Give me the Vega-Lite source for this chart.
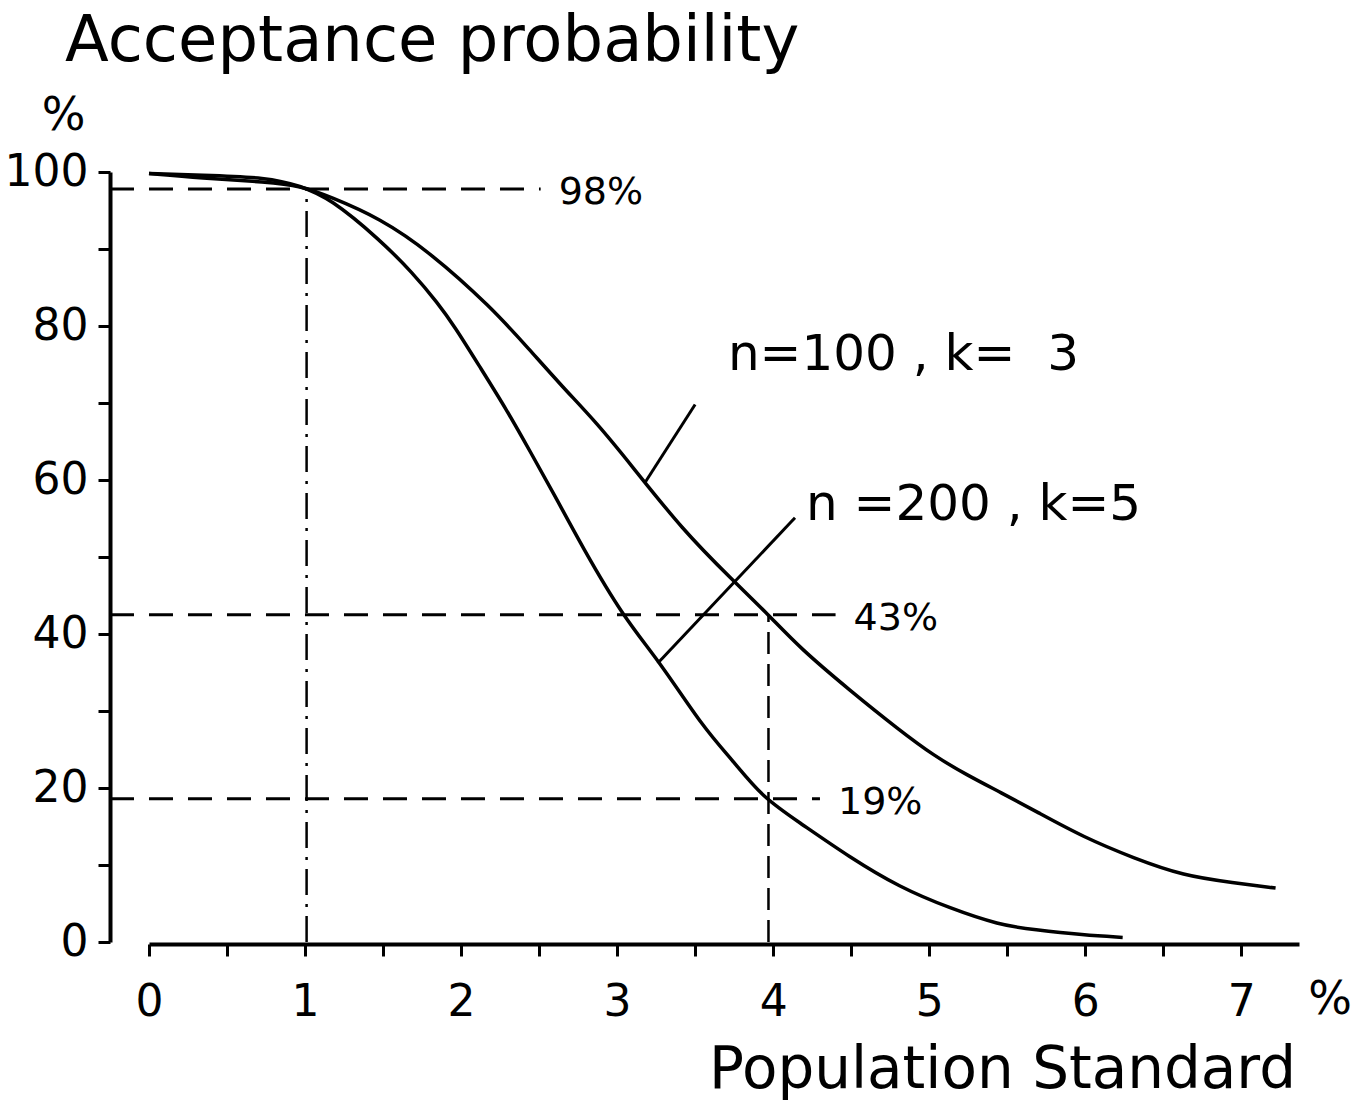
{
  "$schema": "https://vega.github.io/schema/vega-lite/v6.json",
  "width": 1150,
  "height": 770,
  "autosize": {"type": "none"},
  "padding": {"left": 149, "top": 172, "right": 70, "bottom": 164},
  "background": "white",
  "config": {"view": {"stroke": null}, "font": "DejaVu Sans"},
  "title": {"text": "Acceptance probability", "anchor": "start", "frame": "group", "dx": -84, "offset": -33, "baseline": "alphabetic", "fontSize": 64, "fontWeight": "normal", "font": "DejaVu Sans", "color": "black"},
  "datasets": {
    "curves": [
      {"series": "n=100, k=3", "x": 0, "y": 99.8},
      {"series": "n=100, k=3", "x": 0.33, "y": 99.2},
      {"series": "n=100, k=3", "x": 0.76, "y": 98.7},
      {"series": "n=100, k=3", "x": 0.97, "y": 98.2},
      {"series": "n=100, k=3", "x": 1.16, "y": 96.8},
      {"series": "n=100, k=3", "x": 1.48, "y": 94.0},
      {"series": "n=100, k=3", "x": 1.8, "y": 89.6},
      {"series": "n=100, k=3", "x": 2.19, "y": 82.5},
      {"series": "n=100, k=3", "x": 2.44, "y": 76.9},
      {"series": "n=100, k=3", "x": 2.65, "y": 72.1},
      {"series": "n=100, k=3", "x": 2.87, "y": 67.4},
      {"series": "n=100, k=3", "x": 3.08, "y": 62.2},
      {"series": "n=100, k=3", "x": 3.42, "y": 53.5},
      {"series": "n=100, k=3", "x": 3.74, "y": 47.0},
      {"series": "n=100, k=3", "x": 3.97, "y": 42.5},
      {"series": "n=100, k=3", "x": 4.17, "y": 38.2},
      {"series": "n=100, k=3", "x": 4.49, "y": 32.7},
      {"series": "n=100, k=3", "x": 4.81, "y": 27.5},
      {"series": "n=100, k=3", "x": 5.03, "y": 24.2},
      {"series": "n=100, k=3", "x": 5.24, "y": 21.7},
      {"series": "n=100, k=3", "x": 5.46, "y": 19.4},
      {"series": "n=100, k=3", "x": 5.69, "y": 16.9},
      {"series": "n=100, k=3", "x": 5.99, "y": 13.6},
      {"series": "n=100, k=3", "x": 6.31, "y": 10.9},
      {"series": "n=100, k=3", "x": 6.63, "y": 8.6},
      {"series": "n=100, k=3", "x": 6.95, "y": 7.7},
      {"series": "n=100, k=3", "x": 7.22, "y": 7.0},
      {"series": "n=200, k=5", "x": 0, "y": 99.8},
      {"series": "n=200, k=5", "x": 0.33, "y": 99.6},
      {"series": "n=200, k=5", "x": 0.76, "y": 99.3},
      {"series": "n=200, k=5", "x": 0.97, "y": 98.2},
      {"series": "n=200, k=5", "x": 1.16, "y": 96.6},
      {"series": "n=200, k=5", "x": 1.48, "y": 91.2},
      {"series": "n=200, k=5", "x": 1.69, "y": 86.9},
      {"series": "n=200, k=5", "x": 1.85, "y": 83.0},
      {"series": "n=200, k=5", "x": 1.96, "y": 79.9},
      {"series": "n=200, k=5", "x": 2.12, "y": 74.7},
      {"series": "n=200, k=5", "x": 2.29, "y": 69.2},
      {"series": "n=200, k=5", "x": 2.44, "y": 63.8},
      {"series": "n=200, k=5", "x": 2.6, "y": 58.0},
      {"series": "n=200, k=5", "x": 2.78, "y": 51.2},
      {"series": "n=200, k=5", "x": 3.04, "y": 42.2},
      {"series": "n=200, k=5", "x": 3.28, "y": 36.2},
      {"series": "n=200, k=5", "x": 3.55, "y": 27.9},
      {"series": "n=200, k=5", "x": 3.74, "y": 23.6},
      {"series": "n=200, k=5", "x": 3.93, "y": 18.8},
      {"series": "n=200, k=5", "x": 4.17, "y": 15.5},
      {"series": "n=200, k=5", "x": 4.49, "y": 11.0},
      {"series": "n=200, k=5", "x": 4.81, "y": 7.1},
      {"series": "n=200, k=5", "x": 5.13, "y": 4.4},
      {"series": "n=200, k=5", "x": 5.45, "y": 2.2},
      {"series": "n=200, k=5", "x": 5.67, "y": 1.6},
      {"series": "n=200, k=5", "x": 5.99, "y": 0.9},
      {"series": "n=200, k=5", "x": 6.24, "y": 0.6}
    ],
    "hrefs": [
      {"x": -0.25, "x2": 2.51, "y": 97.8, "label": "98%"},
      {"x": -0.25, "x2": 4.4, "y": 42.5, "label": "43%"},
      {"x": -0.25, "x2": 4.3, "y": 18.6, "label": "19%"}
    ],
    "vrefs": [
      {"x": 1.01, "y": 0, "y2": 97.8},
      {"x": 3.97, "y": 0, "y2": 42.5}
    ],
    "leaders": [
      {"x": 3.5, "y": 69.8, "x2": 3.18, "y2": 59.7},
      {"x": 4.14, "y": 55.1, "x2": 3.26, "y2": 36.2}
    ],
    "curveLabels": [
      {"x": 3.71, "y": 76.2, "text": "n=100 , k=\u00a0\u00a03"},
      {"x": 4.21, "y": 56.8, "text": "n =200 , k=5"}
    ],
    "unit": [
      {"x": 7.57, "y": -7.5, "text": "%"}
    ]
  },
  "layer": [
    {
      "data": {"name": "curves"},
      "mark": {"type": "line", "color": "black", "strokeWidth": 3.5, "interpolate": "basis"},
      "encoding": {
        "x": {
          "field": "x", "type": "quantitative",
          "scale": {"domain": [0, 7.37], "nice": false, "zero": false},
          "axis": {
            "values": [0, 0.5, 1, 1.5, 2, 2.5, 3, 3.5, 4, 4.5, 5, 5.5, 6, 6.5, 7],
            "labelExpr": "datum.value % 1 === 0 ? format(datum.value, 'd') : ''",
            "offset": 2, "domainWidth": 4, "domainColor": "black",
            "tickColor": "black", "tickWidth": 3, "tickSize": 12,
            "labelFontSize": 44, "labelColor": "black", "labelPadding": 24, "labelFont": "DejaVu Sans",
            "labelFlush": false, "labelOverlap": false, "grid": false,
            "title": "Population Standard", "titleFontSize": 58, "titleFontWeight": "normal", "titleFont": "DejaVu Sans",
            "titleX": 853, "titleY": 143, "titleAlign": "center", "titleBaseline": "alphabetic", "titleColor": "black"
          }
        },
        "y": {
          "field": "y", "type": "quantitative",
          "scale": {"domain": [0, 100], "nice": false, "zero": false},
          "axis": {
            "values": [0, 10, 20, 30, 40, 50, 60, 70, 80, 90, 100],
            "labelExpr": "datum.value % 20 === 0 ? format(datum.value, 'd') : ''",
            "offset": 39, "domainWidth": 4, "domainColor": "black",
            "tickColor": "black", "tickWidth": 3, "tickSize": 12,
            "labelFontSize": 44, "labelColor": "black", "labelPadding": 10, "labelFont": "DejaVu Sans",
            "labelFlush": false, "labelOverlap": false, "grid": false,
            "title": "%", "titleAngle": 0, "titleX": -47, "titleY": -57, "titleAlign": "center", "titleBaseline": "middle",
            "titleFontSize": 46, "titleFontWeight": "normal", "titleFont": "DejaVu Sans", "titleColor": "black"
          }
        },
        "detail": {"field": "series", "type": "nominal"}
      }
    },
    {
      "data": {"name": "hrefs"},
      "mark": {"type": "rule", "color": "black", "strokeWidth": 3, "strokeDash": [24, 15]},
      "encoding": {
        "x": {"field": "x", "type": "quantitative"},
        "x2": {"field": "x2"},
        "y": {"field": "y", "type": "quantitative"}
      }
    },
    {
      "data": {"name": "hrefs"},
      "mark": {"type": "text", "color": "black", "fontSize": 38, "align": "left", "baseline": "middle", "dx": 18, "dy": 4, "font": "DejaVu Sans"},
      "encoding": {
        "x": {"field": "x2", "type": "quantitative"},
        "y": {"field": "y", "type": "quantitative"},
        "text": {"field": "label"}
      }
    },
    {
      "data": {"name": "vrefs"},
      "transform": [{"filter": "datum.x < 2"}],
      "mark": {"type": "rule", "color": "black", "strokeWidth": 2.5, "strokeDash": [26, 9, 3, 9]},
      "encoding": {
        "x": {"field": "x", "type": "quantitative"},
        "y": {"field": "y", "type": "quantitative"},
        "y2": {"field": "y2"}
      }
    },
    {
      "data": {"name": "vrefs"},
      "transform": [{"filter": "datum.x >= 2"}],
      "mark": {"type": "rule", "color": "black", "strokeWidth": 2.5, "strokeDash": [22, 10]},
      "encoding": {
        "x": {"field": "x", "type": "quantitative"},
        "y": {"field": "y", "type": "quantitative"},
        "y2": {"field": "y2"}
      }
    },
    {
      "data": {"name": "leaders"},
      "mark": {"type": "rule", "color": "black", "strokeWidth": 3},
      "encoding": {
        "x": {"field": "x", "type": "quantitative"},
        "y": {"field": "y", "type": "quantitative"},
        "x2": {"field": "x2"},
        "y2": {"field": "y2"}
      }
    },
    {
      "data": {"name": "curveLabels"},
      "mark": {"type": "text", "color": "black", "fontSize": 50, "align": "left", "baseline": "middle", "font": "DejaVu Sans"},
      "encoding": {
        "x": {"field": "x", "type": "quantitative"},
        "y": {"field": "y", "type": "quantitative"},
        "text": {"field": "text"}
      }
    },
    {
      "data": {"name": "unit"},
      "mark": {"type": "text", "color": "black", "fontSize": 46, "align": "center", "baseline": "middle", "font": "DejaVu Sans"},
      "encoding": {
        "x": {"field": "x", "type": "quantitative"},
        "y": {"field": "y", "type": "quantitative"},
        "text": {"field": "text"}
      }
    }
  ]
}
